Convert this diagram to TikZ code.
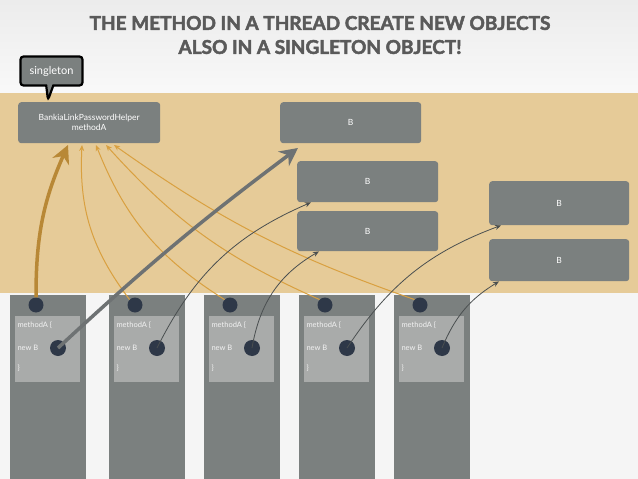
\documentclass[tikz,border=0pt]{standalone}
\usepackage{fontspec}
\setmainfont{Lato}
\newfontfamily\ttlfont[FakeBold=2.5]{Lato}
\usetikzlibrary{arrows.meta,shapes.callouts}
\definecolor{boxg}{HTML}{7B807F}
\definecolor{inner}{HTML}{A9ABAA}
\definecolor{dot}{HTML}{2E3848}
\definecolor{tan}{HTML}{E6CB98}
\definecolor{org}{HTML}{D9A040}
\definecolor{ttl}{HTML}{5A5A5A}
\definecolor{ln}{HTML}{4A4F50}
\tikzset{
 gbox/.style={fill=boxg,rounded corners=3pt,text=white,font=\fontsize{8.5}{10}\selectfont,align=center,anchor=north west},
 thr/.style={fill=boxg,anchor=north west,minimum width=76pt,minimum height=184pt},
 inbox/.style={fill=inner,anchor=north west,minimum width=65pt,minimum height=66pt},
 dotc/.style={circle,fill=dot,minimum size=15pt,inner sep=0},
 code/.style={text=white!90!gray,font=\fontsize{7.5}{8}\selectfont,anchor=west},
 oarr/.style={draw=org,line width=1pt,-{Stealth[length=6pt,width=5pt]}},
 darr/.style={draw=ln,line width=0.8pt,-{Stealth[length=6pt,width=5pt]}}
}
\begin{document}
\begin{tikzpicture}[x=1pt,y=-1pt]
\shade[top color=gray!15,bottom color=gray!5] (0,0) rectangle (638,93);
\fill[tan] (0,93) rectangle (638,293);
\fill[gray!8] (0,293) rectangle (638,479);
\useasboundingbox (0,0) rectangle (638,479);
\node[text=ttl,font=\ttlfont\bfseries\fontsize{19}{24}\selectfont,align=center] (title) at (320,35) {THE METHOD IN A THREAD CREATE NEW OBJECTS\\ALSO IN A SINGLETON OBJECT!};
\node[gbox,minimum width=142pt,minimum height=41pt] (h) at (18,102) {BankiaLinkPasswordHelper\\methodA};
\node[rectangle callout,fill=boxg,draw=black,line width=2.2pt,rounded corners=3pt,text=white,font=\fontsize{11}{12}\selectfont,minimum width=62pt,minimum height=29pt,callout absolute pointer={(48,100)}] (s) at (51.5,71) {singleton};
\node[gbox,minimum width=141pt,minimum height=41pt] (b1) at (280,102) {B};
\node[gbox,minimum width=141pt,minimum height=41pt] (b2) at (297,161) {B};
\node[gbox,minimum width=141pt,minimum height=40pt] (b3) at (297,211) {B};
\node[gbox,minimum width=140pt,minimum height=44pt] (b4) at (489,181) {B};
\node[gbox,minimum width=140pt,minimum height=42pt] (b5) at (489,239) {B};
\foreach \i/\x in {1/10,2/109,3/204,4/299,5/394}{
 \node[thr] (t\i) at (\x,295) {};
 \node[inbox] (in\i) at (\x+5,316) {};
 \node[code] (m\i) at (\x+4,325) {methodA \{};
 \node[code] (n\i) at (\x+4,348) {new B};
 \node[code] (c\i) at (\x+4,368) {\}};
 \node[dotc] (d\i) at (\x+26,305) {};
 \node[dotc,minimum size=16pt] (e\i) at (\x+48,348) {};
}
\coordinate (h1) at (68,145); \coordinate (h2) at (82,145); \coordinate (h3) at (96,145);
\coordinate (h4) at (106,145); \coordinate (h5) at (114,145);
\draw[draw=org!85!black,line width=3.5pt,-{Stealth[length=18pt,width=18pt]}] (d1.north) to[bend left=12] (h1);
\draw[oarr] (d2.north west) to[bend left=20] (h2);
\draw[oarr] (d3.north west) to[bend left=18] (h3);
\draw[oarr] (d4.north west) to[bend left=12] (h4);
\draw[oarr] (d5.north west) to[bend left=8] (h5);
\coordinate (p1) at (298,148);
\draw[draw=ln!80,line width=3.5pt,-{Stealth[length=18pt,width=18pt]}] (e1.center) to[bend left=3] (p1);
\draw[darr] (e2.center) to[bend left=20] ([xshift=14pt]b2.south west);
\draw[darr] (e3.center) to[bend left=25] ([xshift=22pt]b3.south west);
\draw[darr] (e4.center) to[bend left=18] ([xshift=12pt]b4.south west);
\draw[darr] (e5.center) to[bend left=18] ([xshift=10pt]b5.south west);
\end{tikzpicture}
\end{document}
